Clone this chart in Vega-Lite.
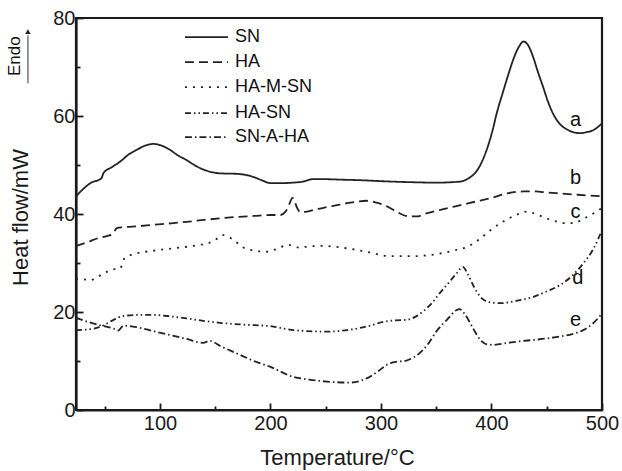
{
  "$schema": "https://vega.github.io/schema/vega-lite/v6.json",
  "autosize": {"type": "none"},
  "padding": {"left": 76, "top": 18, "right": 20, "bottom": 61},
  "width": 526,
  "height": 392,
  "background": "white",
  "config": {
    "font": "Liberation Sans",
    "view": {"stroke": "#1a1a1a", "strokeWidth": 2.2},
    "axis": {"domainColor": "#1a1a1a", "domainWidth": 2.2, "tickColor": "#1a1a1a", "tickWidth": 1.8, "labelColor": "#1a1a1a", "titleColor": "#1a1a1a", "grid": false, "labelFont": "Liberation Sans", "titleFont": "Liberation Sans", "titleFontWeight": "normal"}
  },
  "datasets": {
    "curves": [
      {"s":"SN","x":24,"y":43.6},{"s":"SN","x":30,"y":45},{"s":"SN","x":37,"y":46.3},{"s":"SN","x":47,"y":47.3},{"s":"SN","x":49,"y":48.4},{"s":"SN","x":56,"y":49.5},{"s":"SN","x":64,"y":50.7},{"s":"SN","x":72,"y":52.2},{"s":"SN","x":79,"y":53.1},{"s":"SN","x":87,"y":54},{"s":"SN","x":94,"y":54.3},{"s":"SN","x":101,"y":54},{"s":"SN","x":109,"y":53.1},{"s":"SN","x":116,"y":52},{"s":"SN","x":124,"y":51},{"s":"SN","x":131,"y":50},{"s":"SN","x":139,"y":49.1},{"s":"SN","x":146,"y":48.6},{"s":"SN","x":154,"y":48.3},{"s":"SN","x":169,"y":48.2},{"s":"SN","x":177,"y":48},{"s":"SN","x":184,"y":47.6},{"s":"SN","x":192,"y":46.9},{"s":"SN","x":200,"y":46.3},{"s":"SN","x":209,"y":46.3},{"s":"SN","x":220,"y":46.4},{"s":"SN","x":229,"y":46.6},{"s":"SN","x":238,"y":47.1},{"s":"SN","x":250,"y":47.1},{"s":"SN","x":265,"y":47},{"s":"SN","x":281,"y":46.9},{"s":"SN","x":300,"y":46.7},{"s":"SN","x":326,"y":46.5},{"s":"SN","x":350,"y":46.4},{"s":"SN","x":371,"y":46.6},{"s":"SN","x":380,"y":47.4},{"s":"SN","x":386,"y":48.6},{"s":"SN","x":392,"y":51},{"s":"SN","x":397,"y":54},{"s":"SN","x":401,"y":57.1},{"s":"SN","x":405,"y":60.8},{"s":"SN","x":410,"y":64.6},{"s":"SN","x":415,"y":68.3},{"s":"SN","x":419.5,"y":71.4},{"s":"SN","x":424,"y":73.8},{"s":"SN","x":429,"y":75.2},{"s":"SN","x":433,"y":74.5},{"s":"SN","x":437.6,"y":72.1},{"s":"SN","x":442,"y":69},{"s":"SN","x":446.6,"y":66},{"s":"SN","x":451,"y":63},{"s":"SN","x":455.7,"y":60.5},{"s":"SN","x":461,"y":58.6},{"s":"SN","x":468,"y":57.3},{"s":"SN","x":474,"y":56.7},{"s":"SN","x":480,"y":56.5},{"s":"SN","x":486,"y":56.7},{"s":"SN","x":492,"y":57.1},{"s":"SN","x":496,"y":57.7},{"s":"SN","x":500,"y":58.5},
      {"s":"HA","x":24,"y":33.5},{"s":"HA","x":35,"y":34.3},{"s":"HA","x":43,"y":35},{"s":"HA","x":52,"y":35.5},{"s":"HA","x":57,"y":35.9},{"s":"HA","x":61,"y":37.1},{"s":"HA","x":67,"y":37.3},{"s":"HA","x":80,"y":37.5},{"s":"HA","x":94,"y":37.8},{"s":"HA","x":110,"y":38.1},{"s":"HA","x":124,"y":38.4},{"s":"HA","x":140,"y":38.8},{"s":"HA","x":154,"y":39.1},{"s":"HA","x":170,"y":39.4},{"s":"HA","x":185,"y":39.6},{"s":"HA","x":200,"y":39.8},{"s":"HA","x":209,"y":39.8},{"s":"HA","x":214,"y":40.6},{"s":"HA","x":217,"y":42},{"s":"HA","x":220,"y":43.3},{"s":"HA","x":222,"y":42.5},{"s":"HA","x":224,"y":41.3},{"s":"HA","x":227,"y":40.4},{"s":"HA","x":233,"y":40.5},{"s":"HA","x":242,"y":41},{"s":"HA","x":251,"y":41.4},{"s":"HA","x":260,"y":41.8},{"s":"HA","x":269,"y":42.2},{"s":"HA","x":278,"y":42.5},{"s":"HA","x":287,"y":42.7},{"s":"HA","x":296,"y":42.3},{"s":"HA","x":305,"y":41.6},{"s":"HA","x":313,"y":40.6},{"s":"HA","x":320,"y":39.8},{"s":"HA","x":326,"y":39.5},{"s":"HA","x":332,"y":39.5},{"s":"HA","x":342,"y":40.2},{"s":"HA","x":353,"y":40.8},{"s":"HA","x":362,"y":41.3},{"s":"HA","x":372,"y":41.8},{"s":"HA","x":385,"y":42.5},{"s":"HA","x":399,"y":43.2},{"s":"HA","x":414,"y":44.2},{"s":"HA","x":429,"y":44.6},{"s":"HA","x":440,"y":44.6},{"s":"HA","x":450,"y":44.4},{"s":"HA","x":462,"y":44.2},{"s":"HA","x":474,"y":44},{"s":"HA","x":486,"y":43.8},{"s":"HA","x":500,"y":43.6},
      {"s":"HA-M-SN","x":24,"y":26.8},{"s":"HA-M-SN","x":30,"y":26.7},{"s":"HA-M-SN","x":37,"y":26.5},{"s":"HA-M-SN","x":47,"y":27.6},{"s":"HA-M-SN","x":56,"y":28.6},{"s":"HA-M-SN","x":64,"y":28.9},{"s":"HA-M-SN","x":68,"y":31},{"s":"HA-M-SN","x":76,"y":31.8},{"s":"HA-M-SN","x":94,"y":32.5},{"s":"HA-M-SN","x":112,"y":33},{"s":"HA-M-SN","x":130,"y":33.5},{"s":"HA-M-SN","x":148,"y":34.4},{"s":"HA-M-SN","x":157,"y":35.7},{"s":"HA-M-SN","x":166,"y":34.8},{"s":"HA-M-SN","x":175,"y":33.2},{"s":"HA-M-SN","x":187,"y":32.5},{"s":"HA-M-SN","x":197,"y":32.3},{"s":"HA-M-SN","x":207,"y":33},{"s":"HA-M-SN","x":216,"y":33.7},{"s":"HA-M-SN","x":224,"y":33.2},{"s":"HA-M-SN","x":245,"y":33.5},{"s":"HA-M-SN","x":269,"y":33},{"s":"HA-M-SN","x":287,"y":32.3},{"s":"HA-M-SN","x":308,"y":31.4},{"s":"HA-M-SN","x":329,"y":31.4},{"s":"HA-M-SN","x":350,"y":31.8},{"s":"HA-M-SN","x":365,"y":32.5},{"s":"HA-M-SN","x":378,"y":33.3},{"s":"HA-M-SN","x":390,"y":35},{"s":"HA-M-SN","x":399,"y":36.7},{"s":"HA-M-SN","x":414,"y":38.9},{"s":"HA-M-SN","x":423,"y":39.9},{"s":"HA-M-SN","x":432,"y":40.5},{"s":"HA-M-SN","x":441,"y":39.9},{"s":"HA-M-SN","x":450,"y":39.1},{"s":"HA-M-SN","x":460,"y":38.4},{"s":"HA-M-SN","x":468,"y":38.1},{"s":"HA-M-SN","x":476,"y":38.2},{"s":"HA-M-SN","x":482,"y":38.9},{"s":"HA-M-SN","x":490,"y":39.8},{"s":"HA-M-SN","x":495,"y":40.5},{"s":"HA-M-SN","x":500,"y":41.2},
      {"s":"HA-SN","x":24,"y":16.3},{"s":"HA-SN","x":37,"y":16.5},{"s":"HA-SN","x":49,"y":17.3},{"s":"HA-SN","x":58,"y":18.4},{"s":"HA-SN","x":67,"y":19.2},{"s":"HA-SN","x":80,"y":19.4},{"s":"HA-SN","x":94,"y":19.4},{"s":"HA-SN","x":110,"y":19.1},{"s":"HA-SN","x":124,"y":18.7},{"s":"HA-SN","x":139,"y":18.2},{"s":"HA-SN","x":154,"y":17.8},{"s":"HA-SN","x":177,"y":17.4},{"s":"HA-SN","x":200,"y":17.1},{"s":"HA-SN","x":221,"y":16.3},{"s":"HA-SN","x":251,"y":16},{"s":"HA-SN","x":275,"y":16.5},{"s":"HA-SN","x":290,"y":17.2},{"s":"HA-SN","x":302,"y":18},{"s":"HA-SN","x":313,"y":18.3},{"s":"HA-SN","x":323,"y":18.4},{"s":"HA-SN","x":331,"y":19},{"s":"HA-SN","x":338,"y":20.1},{"s":"HA-SN","x":346,"y":21.8},{"s":"HA-SN","x":353,"y":23.8},{"s":"HA-SN","x":361,"y":25.9},{"s":"HA-SN","x":368.5,"y":27.9},{"s":"HA-SN","x":374,"y":29.2},{"s":"HA-SN","x":379,"y":27.5},{"s":"HA-SN","x":384,"y":25.2},{"s":"HA-SN","x":390,"y":23.1},{"s":"HA-SN","x":398,"y":22},{"s":"HA-SN","x":408,"y":21.8},{"s":"HA-SN","x":423,"y":22.3},{"s":"HA-SN","x":438,"y":23.1},{"s":"HA-SN","x":450,"y":24.2},{"s":"HA-SN","x":462,"y":25.5},{"s":"HA-SN","x":473,"y":27.4},{"s":"HA-SN","x":483,"y":29.9},{"s":"HA-SN","x":492,"y":32.8},{"s":"HA-SN","x":500,"y":36.7},
      {"s":"SN-A-HA","x":24,"y":18.8},{"s":"SN-A-HA","x":36,"y":17.9},{"s":"SN-A-HA","x":49,"y":17.1},{"s":"SN-A-HA","x":58,"y":16.6},{"s":"SN-A-HA","x":62,"y":16.2},{"s":"SN-A-HA","x":67,"y":17.2},{"s":"SN-A-HA","x":79,"y":16.9},{"s":"SN-A-HA","x":94,"y":16.1},{"s":"SN-A-HA","x":109,"y":15.3},{"s":"SN-A-HA","x":124,"y":14.5},{"s":"SN-A-HA","x":139,"y":13.7},{"s":"SN-A-HA","x":145,"y":14.1},{"s":"SN-A-HA","x":155,"y":13},{"s":"SN-A-HA","x":169,"y":11.6},{"s":"SN-A-HA","x":185,"y":10},{"s":"SN-A-HA","x":200,"y":8.8},{"s":"SN-A-HA","x":220,"y":6.8},{"s":"SN-A-HA","x":235,"y":6.2},{"s":"SN-A-HA","x":251,"y":5.8},{"s":"SN-A-HA","x":272,"y":5.6},{"s":"SN-A-HA","x":282,"y":6},{"s":"SN-A-HA","x":290,"y":6.8},{"s":"SN-A-HA","x":298,"y":8},{"s":"SN-A-HA","x":305,"y":9.2},{"s":"SN-A-HA","x":313,"y":9.8},{"s":"SN-A-HA","x":323,"y":10.1},{"s":"SN-A-HA","x":330,"y":10.8},{"s":"SN-A-HA","x":335,"y":11.6},{"s":"SN-A-HA","x":343,"y":13.6},{"s":"SN-A-HA","x":350,"y":16},{"s":"SN-A-HA","x":360,"y":18.5},{"s":"SN-A-HA","x":368.5,"y":20.4},{"s":"SN-A-HA","x":371,"y":20.6},{"s":"SN-A-HA","x":376,"y":19.5},{"s":"SN-A-HA","x":383,"y":16.8},{"s":"SN-A-HA","x":390,"y":14.3},{"s":"SN-A-HA","x":396,"y":13.4},{"s":"SN-A-HA","x":402,"y":13.3},{"s":"SN-A-HA","x":415,"y":13.7},{"s":"SN-A-HA","x":425,"y":14},{"s":"SN-A-HA","x":438,"y":14.3},{"s":"SN-A-HA","x":450,"y":14.6},{"s":"SN-A-HA","x":462,"y":15},{"s":"SN-A-HA","x":473,"y":15.5},{"s":"SN-A-HA","x":483,"y":16.3},{"s":"SN-A-HA","x":492,"y":17.7},{"s":"SN-A-HA","x":500,"y":19.7}
    ],
    "legend": [
      {"s":"SN","x1":122.6,"x2":161.5,"xt":167.8,"y":76.1},
      {"s":"HA","x1":122.6,"x2":161.5,"xt":167.8,"y":71.0},
      {"s":"HA-M-SN","x1":122.6,"x2":161.5,"xt":167.8,"y":65.9},
      {"s":"HA-SN","x1":122.6,"x2":161.5,"xt":167.8,"y":60.6},
      {"s":"SN-A-HA","x1":122.6,"x2":161.5,"xt":167.8,"y":55.7}
    ],
    "tags": [
      {"t":"a","x":476,"y":59.2},
      {"t":"b","x":476,"y":47.3},
      {"t":"c","x":476,"y":40.4},
      {"t":"d","x":478,"y":26.9},
      {"t":"e","x":476,"y":18.4}
    ],
    "endo": [{"t":"Endo","x":-31,"y":72.2,"xa":-19.5,"y1":66.7,"y2":76.5,"ya":77.2}]
  },
  "layer": [
    {
      "data": {"name": "curves"},
      "mark": {"type": "line", "strokeWidth": 1.8, "color": "#222", "interpolate": "monotone"},
      "encoding": {
        "x": {"field": "x", "type": "quantitative", "scale": {"domain": [24, 500], "nice": false, "zero": false},
          "axis": {"title": "Temperature/°C", "values": [50,100,150,200,250,300,350,400,450,500], "labelExpr": "datum.value % 100 === 0 ? datum.label : ''",
            "tickSize": {"condition": {"test": "datum.value % 100 !== 0", "value": -4}, "value": -7},
            "labelFontSize": 20, "labelPadding": 10, "titleFontSize": 22, "titleX": 261, "titleY": 54, "titleBaseline": "alphabetic", "titleAnchor": "middle", "titleAlign": "center", "labelFlush": false}},
        "y": {"field": "y", "type": "quantitative", "scale": {"domain": [0, 80], "nice": false},
          "axis": {"title": "Heat flow/mW", "values": [0,10,20,30,40,50,60,70,80], "labelExpr": "datum.value % 20 === 0 ? datum.label : ''",
            "tickSize": {"condition": {"test": "datum.value % 20 !== 0", "value": -4}, "value": -7},
            "labelFontSize": 20, "labelPadding": 8, "titleFontSize": 22, "titleAngle": 270, "titleX": -56, "titleY": 199, "titleAlign": "center", "titleBaseline": "middle", "labelFlush": false}},
        "detail": {"field": "s", "type": "nominal"},
        "strokeDash": {"field": "s", "type": "nominal", "legend": null,
          "scale": {"domain": ["SN","HA","HA-M-SN","HA-SN","SN-A-HA"], "range": [[1,0],[9,5],[2,6],[6,3,1.5,3,1.5,3],[7,3,1.5,3]]}}
      }
    },
    {
      "data": {"name": "legend"},
      "mark": {"type": "rule", "strokeWidth": 1.8, "color": "#222"},
      "encoding": {
        "x": {"field": "x1", "type": "quantitative"},
        "x2": {"field": "x2"},
        "y": {"field": "y", "type": "quantitative"},
        "strokeDash": {"field": "s", "type": "nominal", "legend": null}
      }
    },
    {
      "data": {"name": "legend"},
      "mark": {"type": "text", "align": "left", "baseline": "middle", "fontSize": 18, "color": "#111"},
      "encoding": {
        "x": {"field": "xt", "type": "quantitative"},
        "y": {"field": "y", "type": "quantitative"},
        "text": {"field": "s"}
      }
    },
    {
      "data": {"name": "tags"},
      "mark": {"type": "text", "align": "center", "baseline": "middle", "fontSize": 20, "color": "#111"},
      "encoding": {
        "x": {"field": "x", "type": "quantitative"},
        "y": {"field": "y", "type": "quantitative"},
        "text": {"field": "t"}
      }
    },
    {
      "data": {"name": "endo"},
      "mark": {"type": "text", "align": "center", "baseline": "middle", "fontSize": 17, "angle": 270, "color": "#111"},
      "encoding": {
        "x": {"field": "x", "type": "quantitative"},
        "y": {"field": "y", "type": "quantitative"},
        "text": {"field": "t"}
      }
    },
    {
      "data": {"name": "endo"},
      "mark": {"type": "rule", "strokeWidth": 1.5, "color": "#777"},
      "encoding": {
        "x": {"field": "xa", "type": "quantitative"},
        "y": {"field": "y1", "type": "quantitative"},
        "y2": {"field": "y2"}
      }
    },
    {
      "data": {"name": "endo"},
      "mark": {"type": "point", "shape": "triangle-up", "filled": true, "size": 30, "color": "#222", "opacity": 1},
      "encoding": {
        "x": {"field": "xa", "type": "quantitative"},
        "y": {"field": "ya", "type": "quantitative"}
      }
    }
  ]
}
